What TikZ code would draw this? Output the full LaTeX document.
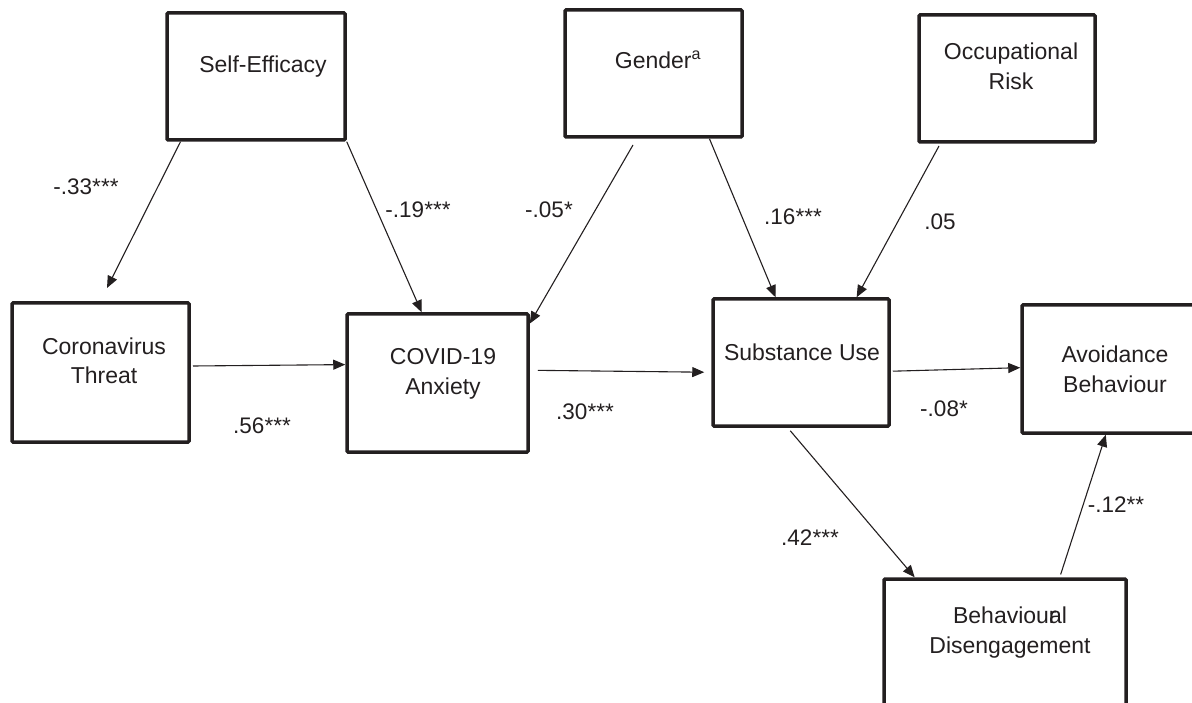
\documentclass[tikz,border=0pt]{standalone}
\usepackage{fontspec}
\setmainfont{Liberation Sans}
\usetikzlibrary{calc,arrows.meta}
\definecolor{ink}{RGB}{35,31,32}
\begin{document}
\begin{tikzpicture}[x=1pt,y=-1pt,
  box/.style={draw=ink, line width=3.5pt, rounded corners=1pt, inner sep=0pt, fill=none},
  txt/.style={inner sep=0pt, align=center, text=ink, font=\fontsize{23}{29.5}\selectfont, anchor=base},
  lbl/.style={inner sep=0pt, text=ink, font=\fontsize{22.5}{26}\selectfont, anchor=base},
  conn/.style={draw=ink, line width=1.1pt, -{Triangle[length=12pt,width=10pt]}}]
\useasboundingbox (0,0) rectangle (1192,703);
\clip (0,0) rectangle (1192,703);
% boxes (line-centre sizes)
\node[box, minimum width=178pt, minimum height=127pt] (SE) at (256,76.5) {};
\node[box, minimum width=177pt, minimum height=127pt] (G)  at (653.5,73.5) {};
\node[box, minimum width=176pt, minimum height=127pt] (OR) at (1007,78.5) {};
\node[box, minimum width=177pt, minimum height=139pt] (CT) at (100.5,372.5) {};
\node[box, minimum width=181pt, minimum height=138pt] (CA) at (437.5,383) {};
\node[box, minimum width=176pt, minimum height=127pt] (SU) at (801,362.5) {};
\node[box, minimum width=195pt, minimum height=128pt] (AB) at (1119.5,369) {};
\node[box, minimum width=242pt, minimum height=200pt] (BD) at (1005,679) {};
% box texts (anchor = baseline of last line)
\node[txt] (SEt) at (263,73) {Self-Efficacy};
\node[txt] (Gt)  at (658,69) {Gender\textsuperscript{a}};
\node[txt] (ORt) at (1011,89.5) {Occupational\\Risk};
\node[txt] (CTt) at (104,384) {Coronavirus\\Threat};
\node[txt] (CAt) at (443,394.5) {COVID-19\\Anxiety};
\node[txt] (SUt) at (802,361) {Substance Use};
\node[txt] (ABt) at (1115,392) {Avoidance\\Behaviour};
\node[txt] (BDt) at (1010,653) {Behaviou\rlap{r}al\\Disengagement};
% free ends
\coordinate (ctIn) at (107,288);
\coordinate (gOut) at (633,145);
\coordinate (orOut) at (939,146);
\coordinate (ctOut) at (193,366);
% connectors
\draw[conn] ($(SE.south west)!0.084!(SE.south east)$) -- (ctIn);
\draw[conn] (SE.south east) -- ($(CA.north west)!0.414!(CA.north east)$);
\draw[conn] (gOut) -- ($(CA.north east)!0.08!(CA.south east)$);
\draw[conn] ($(G.south west)!0.81!(G.south east)$) -- ($(SU.north west)!0.358!(SU.north east)$);
\draw[conn] (orOut) -- ($(SU.north west)!0.81!(SU.north east)$);
\draw[conn] (ctOut) -- ($(CA.north west)!0.37!(CA.south west)$);
\draw[conn, shorten <=8pt, shorten >=7pt] ($(CA.north east)!0.41!(CA.south east)$) -- ($(SU.north west)!0.575!(SU.south west)$);
\draw[conn, shorten <=2pt] ($(SU.north east)!0.567!(SU.south east)$) -- ($(AB.north west)!0.49!(AB.south west)$);
\draw[conn, shorten <=4pt] ($(SU.south west)!0.426!(SU.south east)$) -- ($(BD.north west)!0.132!(BD.north east)$);
\draw[conn, shorten <=3pt] ($(BD.north west)!0.723!(BD.north east)$) -- ($(AB.south west)!0.431!(AB.south east)$);
% path coefficients
\node[lbl] (l1) at (86,195) {-.33***};
\node[lbl] (l2) at (418,218) {-.19***};
\node[lbl] (l3) at (549,218) {-.05*};
\node[lbl] (l4) at (793,225) {.16***};
\node[lbl] (l5) at (940,230) {.05};
\node[lbl] (l6) at (262,433) {.56***};
\node[lbl] (l7) at (585,420) {.30***};
\node[lbl] (l8) at (944,417) {-.08*};
\node[lbl] (l9) at (810,545) {.42***};
\node[lbl] (l10) at (1116,512) {-.12**};
\end{tikzpicture}
\end{document}
